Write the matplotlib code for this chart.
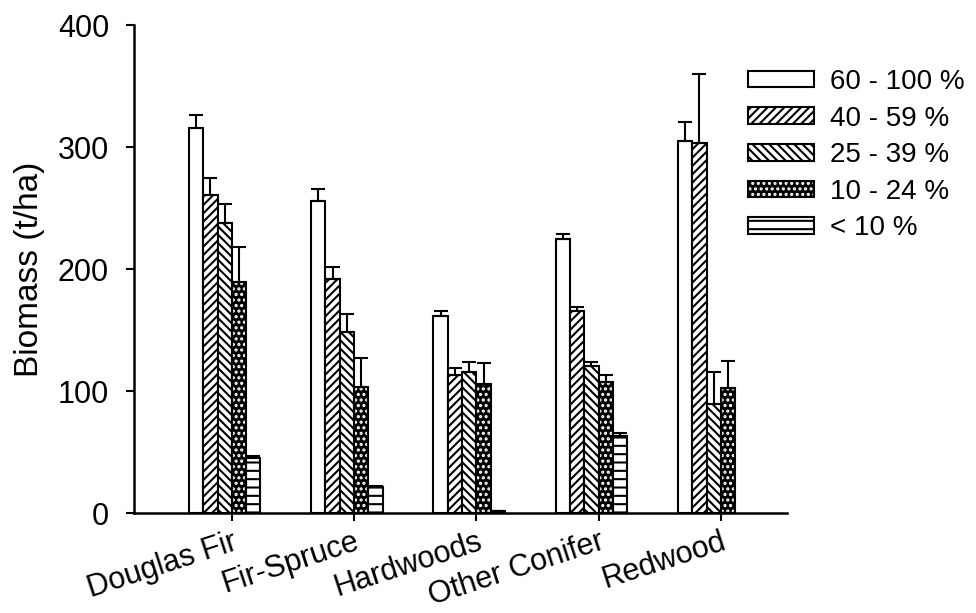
import numpy as np
import matplotlib.pyplot as plt
from matplotlib.legend_handler import HandlerTuple

plt.rcParams['font.family'] = ['Liberation Sans', 'DejaVu Sans']
plt.rcParams['hatch.linewidth'] = 1.5

# Data
categories = ['Douglas Fir', 'Fir-Spruce', 'Hardwoods', 'Other Conifer', 'Redwood']
series_labels = ['60 - 100 %', '40 - 59 %', '25 - 39 %', '10 - 24 %', '< 10 %']

mean_60_100 = [316, 256, 161.5, 225, 305]
mean_40_59 = [261, 192, 113, 166, 303]
mean_25_39 = [238, 148, 116, 120.5, 89]
mean_10_24 = [189, 103.5, 105.5, 107.5, 102.5]
mean_lt10 = [45, 21, 1.5, 63, np.nan]

err_60_100 = [10, 10, 4.5, 4, 15.5]
err_40_59 = [14, 10, 6, 3, 56.5]
err_25_39 = [15, 15, 8, 3.5, 27]
err_10_24 = [29, 23.5, 17.5, 5.5, 22.5]
err_lt10 = [2, 0.8, 0.5, 3, np.nan]

means = [mean_60_100, mean_40_59, mean_25_39, mean_10_24, mean_lt10]
errs = [err_60_100, err_40_59, err_25_39, err_10_24, err_lt10]
hatches = [None, '////', '\\\\\\\\', '...', '--']

fig = plt.figure(figsize=(9.76, 6.13), dpi=100)
ax = fig.add_axes([0.1373, 0.1631, 0.669, 0.796])

x = np.arange(len(categories))
w = 0.117
handles = []
for i in range(5):
    pos = x + (i - 2.5) * w
    m = np.array(means[i], dtype=float)
    e = np.array(errs[i], dtype=float)
    if hatches[i] == '...':
        # black fill with white dots, then a black outline on top
        b1 = ax.bar(pos, m, w, facecolor='black', edgecolor='white',
                    linewidth=0, hatch='...', zorder=2)
        b2 = ax.bar(pos, m, w, facecolor='none', edgecolor='black',
                    linewidth=1.5, zorder=3)
        handles.append((b1, b2))
    else:
        b = ax.bar(pos, m, w, facecolor='white', edgecolor='black',
                   linewidth=1.5, hatch=hatches[i], zorder=2)
        handles.append(b)
    ax.errorbar(pos, m, yerr=[np.zeros_like(e), e], fmt='none',
                ecolor='black', elinewidth=1.5, capsize=5, capthick=1.5, zorder=4)

ax.set_xlim(-0.80, 4.54)
ax.set_ylim(0, 400)
ax.set_yticks([0, 100, 200, 300, 400])
ax.set_xticks(x)
ax.set_xticklabels(categories, rotation=18, ha='right', rotation_mode='anchor')

for s in ['top', 'right']:
    ax.spines[s].set_visible(False)
for s in ['left', 'bottom']:
    ax.spines[s].set_linewidth(1.8)
ax.tick_params(axis='both', direction='out', length=6, width=1.5, labelsize=22)
ax.tick_params(axis='y', pad=12)
ax.tick_params(axis='x', pad=4)
ax.set_ylabel('Biomass (t/ha)', fontsize=24, labelpad=9)

fig.legend(handles, series_labels, loc='upper left',
           bbox_to_anchor=(748 / 976, 1 - 69 / 613), frameon=False,
           fontsize=20, handlelength=2.37, handleheight=0.54,
           labelspacing=0.38, handletextpad=0.58, borderpad=0, borderaxespad=0,
           handler_map={tuple: HandlerTuple(ndivide=1)})

fig.savefig('out.png', dpi=100)
